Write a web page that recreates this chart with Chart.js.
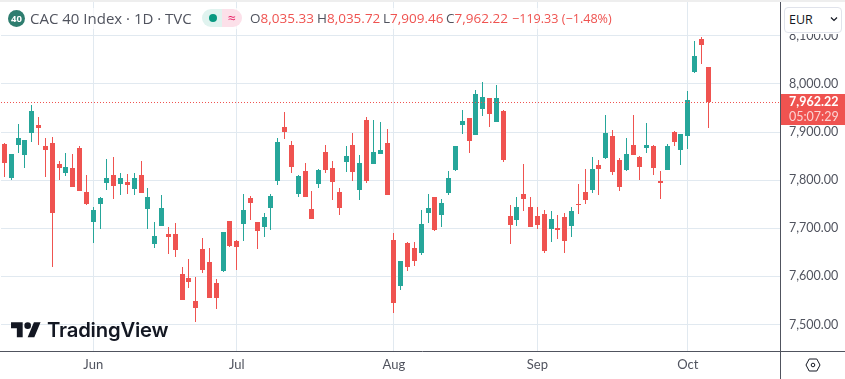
<!DOCTYPE html>
<html>
<head>
<meta charset="utf-8">
<title>CAC 40 Index</title>
<script src="https://cdn.jsdelivr.net/npm/chart.js@4"></script>
<style>
    html, body { margin: 0; padding: 0; background: #fff; overflow: hidden; }
    #wrap { position: relative; width: 845px; height: 379px; font-family: "Open Sans", sans-serif; color: #50535e; }
    #wrap > canvas { position: absolute; left: 0; top: 0; }
    #strip { position: absolute; left: 0; top: 0; width: 845px; height: 2px; background: #eeeeee; }
    #legend { position: absolute; left: 8px; top: 8px; width: 604px; height: 21px; background: rgba(255,255,255,.65); }
    .t { position: absolute; top: 9px; font-size: 13.5px; line-height: 19px; white-space: nowrap; }
    .r { color: #ef5350; }
    #badge { position: absolute; left: 8px; top: 9.5px; width: 17px; height: 17px; border-radius: 50%; background: #2e7d6f; color: #fff; font-size: 9.5px; font-weight: 700; line-height: 17px; text-align: center; }
    #pillA { position: absolute; left: 202px; top: 9px; width: 20px; height: 18px; background: #e0f3ef; border-radius: 9px 0 0 9px; }
    #pillB { position: absolute; left: 222px; top: 9px; width: 20px; height: 18px; background: #fce0e9; border-radius: 0 9px 9px 0; color: #e91e63; font-size: 14px; line-height: 17px; text-align: center; }
    #dot { position: absolute; left: 209px; top: 14px; width: 8px; height: 8px; border-radius: 50%; background: #089981; }
    #cover { position: absolute; left: 781px; top: 2px; width: 64px; height: 32px; background: #fff; }
    #eur { position: absolute; left: 784px; top: 7px; width: 56px; height: 24px; border: 1px solid #e0e3eb; border-radius: 4px; background: #fff; color: #131722; font-size: 12.5px; line-height: 24px; text-indent: 4px; }
    #logoText { position: absolute; left: 47px; top: 316px; font-family: Inter, sans-serif; font-weight: 600; font-size: 20.3px; line-height: 28px; color: #131722; letter-spacing: -0.2px; }
</style>
</head>
<body>
<div id="wrap">
    <canvas id="chart" width="845" height="379"></canvas>
    <div id="strip"></div>
    <div id="legend"></div>
    <div id="badge">40</div>
    <div class="t" style="left:30px;font-size:15px">CAC 40 Index · 1D · TVC</div>
    <div id="pillA"></div><div id="pillB">≈</div><div id="dot"></div>
    <div class="t" style="left:250px">O<span class="r">8,035.33</span></div>
    <div class="t" style="left:317px">H<span class="r">8,035.72</span></div>
    <div class="t" style="left:383px">L<span class="r">7,909.46</span></div>
    <div class="t" style="left:446px">C<span class="r">7,962.22</span></div>
    <div class="t r" style="left:512px;font-size:12.6px">−119.33 (−1.48%)</div>
    <div id="cover"></div>
    <div id="eur">EUR</div>
    <svg style="position:absolute;left:830px;top:16px" width="8" height="6" viewBox="0 0 8 6"><path d="M1 1.5l3 3 3-3" fill="none" stroke="#131722" stroke-width="1.2"/></svg>
    <svg style="position:absolute;left:11px;top:318.7px" width="30" height="23.3" viewBox="0 0 36 28"><path d="M14 22H7V11H0V4h14v18zM28 22h-8l7.5-18h8L28 22z" fill="#131722"/><circle cx="20" cy="8" r="4" fill="#131722"/></svg>
    <div id="logoText">TradingView</div>
    <svg style="position:absolute;left:805px;top:358px" width="16" height="14" viewBox="0 0 16 14"><path d="M4.2 1h7.6L15 7l-3.2 6H4.2L1 7z" fill="none" stroke="#131722" stroke-width="1"/><circle cx="8" cy="7" r="1.8" fill="none" stroke="#131722" stroke-width="1"/></svg>
</div>

<script>
"use strict"

// trading days, the last ten are the empty space right of the last candle
const dates = [
    "May 14", "May 15", "May 16", "May 19", "May 20", "May 21", "May 22", "May 23", "May 26", "May 27", "May 28", "May 29", "May 30",
    "Jun 2", "Jun 3", "Jun 4", "Jun 5", "Jun 6", "Jun 9", "Jun 10", "Jun 11", "Jun 12", "Jun 13", "Jun 16", "Jun 17", "Jun 18", "Jun 19", "Jun 20", "Jun 23", "Jun 24", "Jun 25", "Jun 26", "Jun 27", "Jun 30",
    "Jul 1", "Jul 2", "Jul 3", "Jul 4", "Jul 7", "Jul 8", "Jul 9", "Jul 10", "Jul 11", "Jul 14", "Jul 15", "Jul 16", "Jul 17", "Jul 18", "Jul 21", "Jul 22", "Jul 23", "Jul 24", "Jul 25", "Jul 28", "Jul 29", "Jul 30", "Jul 31",
    "Aug 1", "Aug 4", "Aug 5", "Aug 6", "Aug 7", "Aug 8", "Aug 11", "Aug 12", "Aug 13", "Aug 14", "Aug 15", "Aug 18", "Aug 19", "Aug 20", "Aug 21", "Aug 22", "Aug 25", "Aug 26", "Aug 27", "Aug 28", "Aug 29",
    "Sep 1", "Sep 2", "Sep 3", "Sep 4", "Sep 5", "Sep 8", "Sep 9", "Sep 10", "Sep 11", "Sep 12", "Sep 15", "Sep 16", "Sep 17", "Sep 18", "Sep 19", "Sep 22", "Sep 23", "Sep 24", "Sep 25", "Sep 26", "Sep 29", "Sep 30",
    "Oct 1", "Oct 2", "Oct 3", "Oct 6", "Oct 7", "Oct 8", "Oct 9", "Oct 10", "Oct 13", "Oct 14", "Oct 15", "Oct 16", "Oct 17", "Oct 20"
];

const opens = [
    7875.4, 7804.8, 7873.3, 7852.6, 7898.2, 7914.8, 7871.2, 7877.5, 7833.9, 7815.2, 7825.6, 7867, 7775.7,
    7713.4, 7750.7, 7794.4, 7811, 7792.4, 7796.5, 7782, 7811, 7740.4, 7667.7, 7705, 7688.5, 7688.5, 7605.4, 7597.1, 7549.4, 7657.3, 7630.3, 7586.7, 7611.6, 7715.4,
    7673.9, 7709.2, 7763.2, 7713.4, 7703, 7742.4, 7798.6, 7910.7, 7873.4, 7771.7, 7819.4, 7740.5, 7792.4, 7858.8, 7825.6, 7775.8, 7838.1, 7873.4, 7780, 7925.3, 7833.9, 7854.7, 7877.5,
    7676.2, 7580.7, 7670, 7659.6, 7649.2, 7732.2, 7765.4, 7728.1, 7773.8, 7821.5, 7914.9, 7929.4, 7894.2, 7948.1, 7971, 7921.2, 7944, 7726, 7717.7, 7771.7, 7744.7,
    7726, 7730.2, 7699, 7701, 7723.9, 7705.2, 7750.9, 7775.8, 7780, 7831.9, 7846.4, 7892.1, 7842.2, 7821.5, 7873.4, 7848.5, 7867.2, 7871.3, 7798.6, 7821.5, 7900.4, 7863,
    7892.1, 8024.9, 8093.4, 8035.33
];

const highs = [
    7878, 7855, 7916.9, 7884, 7956.4, 7931.4, 7887.9, 7889.9, 7840.1, 7856.7, 7854.6, 7871.2, 7811,
    7744.5, 7765.3, 7844.3, 7848.4, 7815.2, 7813.1, 7815.2, 7840.1, 7784, 7713.4, 7769.4, 7703, 7711.3, 7619.9, 7636.6, 7599.2, 7680.2, 7659.4, 7595, 7693, 7716,
    7676, 7771.5, 7767.4, 7713.4, 7732, 7771.5, 7887.9, 7941.9, 7881.7, 7811, 7836, 7777.9, 7823.6, 7873.4, 7840.2, 7784.1, 7871.3, 7898.3, 7852.6, 7931.5, 7925.3, 7921.1, 7906.6,
    7690.7, 7633, 7670.5, 7672, 7738.5, 7771.7, 7766, 7761.3, 7819.4, 7872, 7946.1, 7930, 7987.6, 8004.2, 7971.5, 7998, 7946.1, 7748.8, 7765.4, 7833.9, 7765.4,
    7744.7, 7738.5, 7736.4, 7728, 7732.2, 7744.7, 7792.4, 7823.6, 7848.5, 7842.2, 7935.7, 7904.5, 7846.4, 7887.9, 7935.7, 7850.5, 7919, 7873.4, 7819.4, 7875.5, 7902.4, 7896.5,
    7985.5, 8089.3, 8097.6, 8035.72
];

const lows = [
    7806.9, 7800.7, 7856.7, 7825.6, 7879.5, 7873.3, 7806.9, 7620.5, 7800.7, 7809, 7786, 7777, 7748.7,
    7669.8, 7698.8, 7779.9, 7761.2, 7769.5, 7771.6, 7769.5, 7773, 7698.8, 7659.4, 7704, 7646.9, 7640.7, 7551, 7576.4, 7505.8, 7607.5, 7555, 7532.8, 7609.6, 7661.5,
    7613.7, 7673.9, 7717.5, 7657.3, 7682.2, 7696.8, 7790.3, 7885.8, 7815.2, 7765.4, 7765, 7719, 7784.1, 7815.2, 7759.2, 7728.1, 7817.3, 7798.6, 7759.2, 7794.5, 7833, 7854, 7769,
    7524.6, 7572.4, 7611.8, 7622.2, 7645, 7711.5, 7694.9, 7703.2, 7769.6, 7819.4, 7896.2, 7856.8, 7893.5, 7933.6, 7910.8, 7920.5, 7838.1, 7667.9, 7705.2, 7736.4, 7703,
    7699, 7649.2, 7672, 7678.2, 7649.2, 7682.4, 7730, 7750.9, 7773.7, 7769.6, 7844.3, 7811.1, 7777.9, 7819.4, 7852, 7800.7, 7856.8, 7811.1, 7761.3, 7821, 7871.3, 7831.9,
    7865.1, 8022.8, 8041.5, 7909.46
];

const closes = [
    7836, 7854.6, 7887.9, 7883.7, 7943.9, 7908.6, 7862.9, 7732, 7825.6, 7827.6, 7786.1, 7777.8, 7750.8,
    7738.3, 7763.2, 7804.8, 7788.2, 7804.8, 7790.3, 7804.8, 7773.7, 7765.3, 7684.3, 7742.4, 7682.2, 7655.2, 7551.4, 7588.8, 7534.8, 7613.7, 7555.6, 7555.6, 7692.6, 7663.5,
    7661.5, 7738.3, 7752.8, 7694.7, 7723.7, 7767.3, 7879.6, 7900.4, 7827.7, 7809, 7765.4, 7719.8, 7821.5, 7821.5, 7796.6, 7742.6, 7850.5, 7817.3, 7836, 7798.6, 7858.8, 7863, 7769.6,
    7545.4, 7632.6, 7620.1, 7632.6, 7709.4, 7742.6, 7697, 7753, 7804.9, 7871.3, 7923.2, 7881.7, 7979.3, 7973.1, 7937.8, 7971, 7842.3, 7707.3, 7744.7, 7761.3, 7703.2,
    7707.3, 7653.4, 7719.8, 7697, 7674, 7736.4, 7748.8, 7759.2, 7823.6, 7823.6, 7898.3, 7817.3, 7786.2, 7854.7, 7852.6, 7827.7, 7873.4, 7825.6, 7794.5, 7871.3, 7879.6, 7896.2,
    7966.8, 8058.1, 8081, 7962.22
];

const monthLabels = ["Jun", "Jul", "Aug", "Sep", "Oct"];
const monthStarts = ["Jun 2", "Jul 1", "Aug 1", "Sep 1", "Oct 1"];
const priceTicks = [7500, 7600, 7700, 7800, 7900, 8000, 8100];
const lastPrice = 7962.22;
const countdown = "05:07:29";

const UP = "#26a69a";
const DOWN = "#ef5350";
const GRID = "#e1e9f0";
const AXIS = "#50535e";
const FONT = "Lato";

const barColors = opens.map((o, i) => closes[i] >= o ? UP : DOWN);

// snap bars to whole pixels so the candles stay crisp
const snapBars = {
    id: "snapBars",
    afterDatasetsUpdate(chart) {
        chart.data.datasets.forEach((ds, i) => {
            chart.getDatasetMeta(i).data.forEach(bar => {
                bar.x = Math.floor(bar.x) + 0.5;
                bar.y = Math.round(bar.y);
                bar.base = Math.round(bar.base);
            });
        });
    }
};

// last price line, price tag and the axis frame
const priceTag = {
    id: "priceTag",
    afterDraw(chart) {
        const ctx = chart.ctx;
        const y = Math.round(chart.scales.y.getPixelForValue(lastPrice));
        const right = chart.chartArea.right;

        ctx.save();
        ctx.strokeStyle = DOWN;
        ctx.lineWidth = 1;
        ctx.setLineDash([1, 2]);
        ctx.beginPath();
        ctx.moveTo(1, y + 0.5);
        ctx.lineTo(right, y + 0.5);
        ctx.stroke();
        ctx.setLineDash([]);

        ctx.strokeStyle = AXIS;
        ctx.beginPath();
        ctx.moveTo(right + 0.5, 2);
        ctx.lineTo(right + 0.5, 379);
        ctx.moveTo(0, chart.chartArea.bottom + 0.5);
        ctx.lineTo(845, chart.chartArea.bottom + 0.5);
        ctx.stroke();

        ctx.fillStyle = DOWN;
        ctx.fillRect(right + 1, y - 8, 64, 31);
        ctx.textBaseline = "middle";
        ctx.fillStyle = "#fff";
        ctx.font = "bold 12.5px " + FONT;
        ctx.fillText(lastPrice.toLocaleString("en-US", { minimumFractionDigits: 2 }), right + 9, y);
        ctx.fillStyle = "rgba(255,255,255,.75)";
        ctx.font = "12.5px " + FONT;
        ctx.fillText(countdown, right + 9, y + 15);
        ctx.restore();
    }
};

new Chart(document.getElementById("chart").getContext("2d"), {
    type: "bar",
    data: {
        labels: dates,
        datasets: [
            {
                label: "High-Low",
                data: lows.map((l, i) => [l, highs[i]]),
                backgroundColor: barColors,
                barThickness: 1,
                grouped: false,
                inflateAmount: 0
            },
            {
                label: "Open-Close",
                data: opens.map((o, i) => [o, closes[i]]),
                backgroundColor: barColors,
                barThickness: 5,
                grouped: false,
                inflateAmount: 0
            }
        ]
    },
    options: {
        responsive: false,
        animation: false,
        layout: { padding: { left: 1 } },
        plugins: {
            legend: { display: false },
            tooltip: { enabled: false }
        },
        scales: {
            x: {
                afterFit: scale => {
                    scale.height = 28;
                    scale.paddingLeft = 0;
                    scale.paddingRight = 0;
                },
                afterBuildTicks: scale => {
                    scale.ticks = monthStarts.map(m => ({ value: dates.indexOf(m) }));
                },
                grid: { color: GRID, offset: false, drawTicks: false },
                border: { display: false },
                ticks: {
                    autoSkip: false,
                    maxRotation: 0,
                    padding: 6,
                    color: AXIS,
                    font: { family: FONT, size: 13 },
                    callback: function (value, index) {
                        return monthLabels[index];
                    }
                }
            },
            y: {
                position: "right",
                min: 7444.9,
                max: 8174.5,
                afterFit: scale => {
                    scale.width = 65;
                    scale.paddingTop = 0;
                    scale.paddingBottom = 0;
                },
                afterBuildTicks: scale => {
                    scale.ticks = priceTicks.map(p => ({ value: p }));
                },
                grid: { color: GRID, drawTicks: false },
                border: { display: false },
                ticks: {
                    padding: 9,
                    color: AXIS,
                    font: { family: FONT, size: 12.5 },
                    callback: value => value.toLocaleString("en-US", { minimumFractionDigits: 2 })
                }
            }
        }
    },
    plugins: [snapBars, priceTag]
});
</script>
</body>
</html>
